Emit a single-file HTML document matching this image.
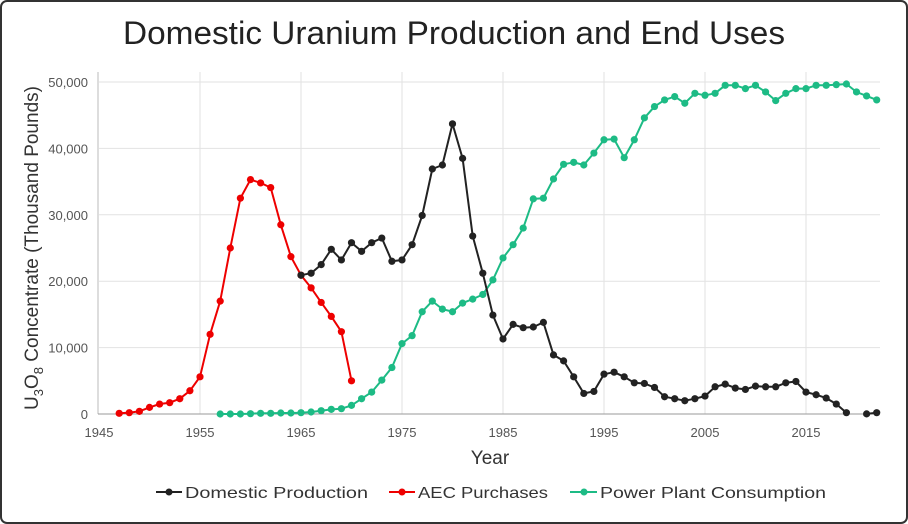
<!DOCTYPE html>
<html><head><meta charset="utf-8"><style>
html,body{margin:0;padding:0;background:#fff}
svg{display:block;font-family:"Liberation Sans","DejaVu Sans",sans-serif}
</style></head><body>
<svg id="c" width="908" height="524" viewBox="0 0 908 524" xmlns="http://www.w3.org/2000/svg">
<rect x="1" y="1" width="906" height="522" rx="6" fill="#fff" stroke="#333" stroke-width="2"/>
<text x="123" y="44" font-size="32" fill="#222" textLength="662" lengthAdjust="spacingAndGlyphs">Domestic Uranium Production and End Uses</text>
<g id="grid"></g>
<g id="series"></g>
<text x="490" y="464" text-anchor="middle" font-size="19" fill="#333">Year</text>
<text transform="translate(38,248) rotate(-90)" text-anchor="middle" font-size="19" fill="#333">U<tspan font-size="13" dy="5">3</tspan><tspan dy="-5">O</tspan><tspan font-size="13" dy="5">8</tspan><tspan dy="-5"> Concentrate (Thousand Pounds)</tspan></text>
<g font-size="16" fill="#333">
<line x1="156" y1="492" x2="182" y2="492" stroke="#222" stroke-width="2"/><circle cx="169" cy="492" r="3.5" fill="#222"/>
<text x="185" y="498" textLength="183" lengthAdjust="spacingAndGlyphs">Domestic Production</text>
<line x1="389" y1="492" x2="415" y2="492" stroke="#e00" stroke-width="2"/><circle cx="402" cy="492" r="3.5" fill="#e00"/>
<text x="418" y="498" textLength="130" lengthAdjust="spacingAndGlyphs">AEC Purchases</text>
<line x1="570" y1="492" x2="597" y2="492" stroke="#1dbb85" stroke-width="2"/><circle cx="584" cy="492" r="3.5" fill="#1dbb85"/>
<text x="600" y="498" textLength="226" lengthAdjust="spacingAndGlyphs">Power Plant Consumption</text>
</g>
</svg>
<script>
const X=y=>99+(y-1945)*10.1, Y=v=>414-v*6.64;
const ns="http://www.w3.org/2000/svg";
function el(p,t,a){const e=document.createElementNS(ns,t);for(const k in a)e.setAttribute(k,a[k]);p.appendChild(e);return e;}
const g=document.getElementById('grid');
for(let v=10;v<=50;v+=10){el(g,'line',{x1:99,x2:880,y1:Y(v),y2:Y(v),stroke:'#e2e2e2','stroke-width':1});}
for(let yr=1955;yr<=2015;yr+=10){el(g,'line',{x1:X(yr),x2:X(yr),y1:72,y2:414,stroke:'#e2e2e2','stroke-width':1});}
el(g,'line',{x1:98,x2:98,y1:72,y2:414,stroke:'#bbb'});
el(g,'line',{x1:98,x2:880,y1:414,y2:414,stroke:'#999'});
for(let v=0;v<=50;v+=10){const t=el(g,'text',{x:88,y:Y(v)+5,'text-anchor':'end','font-size':13,fill:'#555'});t.textContent=v===0?'0':v+',000';}
for(let yr=1945;yr<=2015;yr+=10){const t=el(g,'text',{x:X(yr),y:437,'text-anchor':'middle','font-size':13,fill:'#555'});t.textContent=yr;}
const aec=[0.1,0.2,0.4,1,1.5,1.7,2.3,3.5,5.6,12,17,25,32.5,35.3,34.8,34.1,28.5,23.7,20.9,19,16.8,14.7,12.4,5];
const dom=[20.9,21.2,22.5,24.8,23.2,25.8,24.5,25.8,26.5,23,23.2,25.5,29.9,36.9,37.5,43.7,38.5,26.8,21.2,14.9,11.3,13.5,13,13.1,13.8,8.9,8,5.6,3.1,3.4,6,6.3,5.6,4.7,4.6,4,2.6,2.3,2,2.3,2.7,4.1,4.5,3.9,3.7,4.2,4.1,4.1,4.7,4.9,3.3,2.9,2.4,1.5,0.2,null,0.02,0.2];
const pow=[0,0,0,0.05,0.1,0.1,0.15,0.15,0.2,0.3,0.5,0.7,0.8,1.3,2.3,3.3,5.1,7,10.6,11.8,15.4,17,15.8,15.4,16.7,17.3,18,20.2,23.5,25.5,28,32.4,32.5,35.4,37.6,37.9,37.5,39.3,41.3,41.4,38.6,41.3,44.6,46.3,47.3,47.8,46.8,48.3,48,48.3,49.5,49.5,49,49.5,48.5,47.2,48.3,49,49,49.5,49.5,49.6,49.7,48.5,47.9,47.3];
const s=document.getElementById('series');
function draw(data,start,col){
  let d='',pen=false;
  data.forEach((v,i)=>{if(v==null){pen=false;return;}d+=(pen?'L':'M')+X(start+i).toFixed(1)+','+Y(v).toFixed(1);pen=true;});
  el(s,'path',{d:d,fill:'none',stroke:col,'stroke-width':2,'stroke-linejoin':'round'});
  data.forEach((v,i)=>{if(v!=null)el(s,'circle',{cx:X(start+i),cy:Y(v),r:3.6,fill:col});});
}
draw(pow,1957,'#1dbb85');
draw(aec,1947,'#e00');
draw(dom,1965,'#222');
</script>
</body></html>
